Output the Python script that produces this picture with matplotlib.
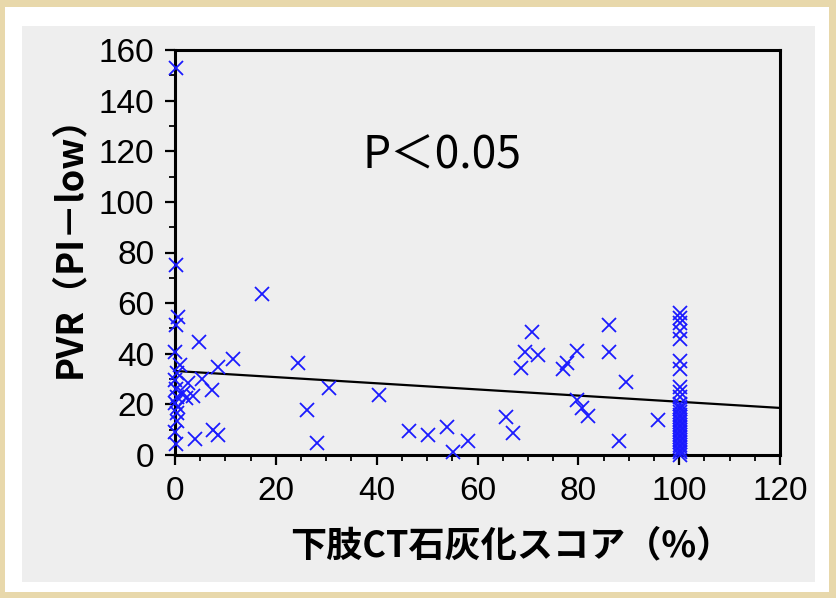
import matplotlib.pyplot as plt
from matplotlib.patches import Rectangle
from matplotlib.ticker import MultipleLocator

# CT calcification score (%) and PVR values
score_low = [0.2, 0.2, 0.6, 0.2, 0.0, 1.0, 0.3, 0.0, 0.2, 1.6, 0.4, 0.0, 0.5,
             0.4, 0.4, 0.0, 0.2, 4.8, 17.3, 8.5, 11.5, 2.6, 5.4, 7.3, 3.6,
             7.5, 8.5, 4.0, 2.2]
pvr_low = [153, 75, 54.5, 51.4, 40.5, 35.6, 32.5, 29.5, 26, 24.5, 23, 20.5, 19,
           16.5, 13.5, 9, 4.3, 44.7, 63.6, 34.8, 37.9, 28.5, 30, 25.7, 23.3,
           9.9, 7.9, 6.3, 22.5]

score_mid = [24.4, 30.6, 26.2, 28.2, 40.5, 46.4, 50.2, 54.0, 55.2, 58.1,
             70.8, 69.4, 72.0, 68.7, 65.7, 67.0, 79.8, 77.8, 77.0, 86.1,
             86.1, 89.5, 79.8, 80.8, 82.0, 88.1, 95.8]
pvr_mid = [36.4, 26.5, 17.8, 4.7, 23.7, 9.5, 7.9, 11.1, 1.2, 5.5,
           48.7, 40.7, 39.5, 34.4, 15, 8.7, 41.1, 36.4, 34, 51.4,
           40.7, 28.9, 21.7, 18.6, 15.4, 5.5, 13.8]

pvr_100 = [56, 54, 52, 49, 46, 37, 34, 27, 25, 23, 20, 19, 18, 17, 16, 15,
           14, 13, 12, 11, 10, 9, 8, 7, 6, 5, 4, 3, 2, 1, 0]
score_100 = [100.2] * len(pvr_100)

# regression line end points
fit_x = [0, 120]
fit_y = [33.2, 18.6]

W, H = 836, 598


def px_rect(fig, x0, y0, x1, y1, color, z):
    # rectangle given in pixel coords (top-left origin)
    r = Rectangle((x0 / W, 1 - y1 / H), (x1 - x0) / W, (y1 - y0) / H,
                  transform=fig.transFigure, facecolor=color,
                  edgecolor="none", zorder=z)
    fig.add_artist(r)


def main():
    fig = plt.figure(figsize=(W / 100, H / 100), dpi=100)
    fig.patch.set_facecolor("#e8d8ab")
    px_rect(fig, 5, 7, 829, 592, "white", -10)
    px_rect(fig, 22, 26, 815, 582, "#eeeeee", -9)

    ax = fig.add_axes([175 / W, 1 - 455 / H, 605 / W, 405 / H])
    ax.set_facecolor("#eeeeee")
    ax.patch.set_alpha(0)

    xs = score_low + score_mid + score_100
    ys = pvr_low + pvr_mid + pvr_100
    ax.plot(xs, ys, linestyle="none", marker="x", color="#1a1aff",
            markersize=9.5, markeredgewidth=1.3, clip_on=False, zorder=3)
    ax.plot(fit_x, fit_y, color="black", linewidth=1.6, zorder=2)

    ax.set_xlim(0, 120)
    ax.set_ylim(0, 160)
    ax.xaxis.set_major_locator(MultipleLocator(20))
    ax.xaxis.set_minor_locator(MultipleLocator(5))
    ax.yaxis.set_major_locator(MultipleLocator(20))
    ax.yaxis.set_minor_locator(MultipleLocator(10))
    ax.tick_params(which="major", length=7, width=1.6, pad=8,
                   labelsize=24, colors="black")
    ax.tick_params(which="minor", length=4, width=1.3)
    for lab in ax.get_xticklabels() + ax.get_yticklabels():
        lab.set_family("Liberation Sans")
    for sp in ax.spines.values():
        sp.set_linewidth(2.2)
        sp.set_color("black")

    ax.text(0.31, 0.74, "P＜0.05", transform=ax.transAxes, fontsize=32,
            family=["Noto Sans CJK JP", "DejaVu Sans"], va="center",
            ha="left")

    fig.text(70 / W, 1 - 238 / H, "PVR（PI－low）", rotation=90,
             ha="center", va="center", fontsize=26, fontweight="bold",
             family=["Noto Sans CJK JP", "DejaVu Sans"])
    fig.text(511 / W, 1 - 546 / H, "下肢CT石灰化スコア（%）",
             ha="center", va="center", fontsize=26, fontweight="bold",
             family=["Noto Sans CJK JP", "DejaVu Sans"])

    fig.savefig("out.png", dpi=100, facecolor=fig.get_facecolor())


if __name__ == "__main__":
    main()
